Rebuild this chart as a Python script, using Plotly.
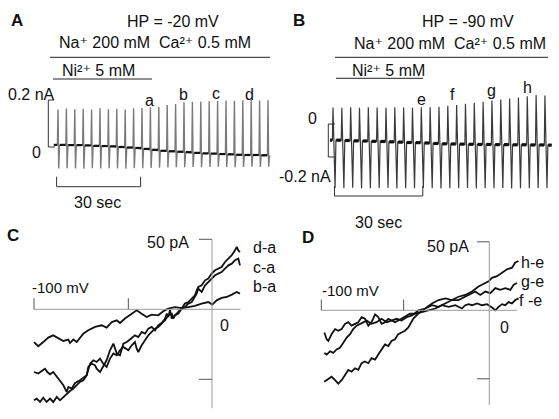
import plotly.graph_objects as go

W, H = 559, 419
FONT = "Liberation Sans, Arial, Helvetica, DejaVu Sans, sans-serif"

# ---------------- data ----------------
# Panel A (HP = -20 mV): one value per sweep (nA), sweeps every 3 s
A_SWEEP_T = [0, 3, 6, 9, 12, 15, 18, 21, 24, 27, 30, 33, 36, 39, 42, 45, 48, 51, 54, 57, 60, 63, 66, 69, 72, 75]
A_TOP = [0.160, 0.164, 0.161, 0.163, 0.160, 0.165, 0.161, 0.163, 0.160, 0.165, 0.166, 0.168,
         0.171, 0.179, 0.183, 0.190, 0.192, 0.194, 0.195, 0.196, 0.198, 0.197, 0.199, 0.200, 0.198, 0.199]
A_BOT = [-0.091, -0.090, -0.091, -0.092, -0.090, -0.091, -0.090, -0.091, -0.092, -0.090, -0.090, -0.089,
         -0.088, -0.087, -0.086, -0.086, -0.085, -0.086, -0.085, -0.084, -0.085, -0.086, -0.085, -0.084, -0.085, -0.084]
A_BASE = [0.009, 0.008, 0.008, 0.007, 0.005, 0.004, 0.003, 0.000, -0.002, -0.004, -0.008, -0.012,
          -0.016, -0.018, -0.020, -0.022, -0.025, -0.027, -0.028, -0.030, -0.031, -0.033, -0.034, -0.034, -0.035, -0.036]

# Panel B (HP = -90 mV)
B_SWEEP_T = [0, 3, 6, 9, 12, 15, 18, 21, 24, 27, 30, 33, 36, 39, 42, 45, 48, 51, 54, 57, 60, 63, 66, 69, 72]
B_TOP = [0.100, 0.098, 0.102, 0.099, 0.101, 0.100, 0.098, 0.101, 0.100, 0.099, 0.101, 0.102,
         0.105, 0.110, 0.115, 0.122, 0.128, 0.135, 0.142, 0.148, 0.155, 0.160, 0.168, 0.175, 0.172]
B_BOT = [-0.388, -0.390, -0.386, -0.391, -0.389, -0.390, -0.387, -0.391, -0.389, -0.390, -0.388, -0.390,
         -0.391, -0.389, -0.390, -0.388, -0.391, -0.389, -0.390, -0.388, -0.391, -0.389, -0.390, -0.388, -0.390]
B_BASE = [-0.098, -0.100, -0.102, -0.103, -0.105, -0.106, -0.108, -0.110, -0.112, -0.113, -0.115, -0.118,
          -0.120, -0.121, -0.122, -0.123, -0.124, -0.124, -0.125, -0.125, -0.126, -0.126, -0.127, -0.127, -0.128]

# Panel C: difference I-V curves (mV, pA)
C_V_BA = [-100, -97.6, -94.8, -92.0, -89.2, -86.3, -83.5, -80.7, -79.8, -77.9, -76.0, -72.3, -69.5, -65.7,
          -62.0, -59.2, -56.3, -53.5, -51.7, -48.9, -46.1, -42.3, -39.5, -36.7, -33.9, -30.2, -27.4, -24.6,
          -20.8, -17.0, -13.3, -9.6, -5.8, -2.1, 0.2, 2.6, 5.4, 8.3, 11.1, 13.9, 15.7]
C_I_BA = [-23.4, -26.4, -23.4, -20.2, -18.6, -20.9, -22.6, -21.6, -24.1, -21.6, -23.4, -17.4, -15.0, -12.6,
          -11.4, -13.1, -9.1, -7.9, -9.8, -6.6, -4.3, -0.7, -3.1, -5.5, -3.8, -4.3, -1.4, 0.5,
          1.6, 0.9, 1.6, 2.4, 4.1, 5.2, 3.4, 6.4, 8.1, 8.8, 10.5, 12.4, 11.2]
C_V_CA = [-100, -97.6, -95.7, -93.8, -92.5, -91.0, -89.2, -87.2, -85.4, -83.5, -81.6, -80.7, -78.8, -76.9,
          -74.2, -72.3, -70.4, -69.5, -67.6, -65.7, -64.8, -62.9, -61.1, -59.2, -57.3, -55.4, -53.5, -51.7,
          -49.8, -47.9, -46.1, -43.3, -41.4, -39.5, -37.6, -35.8, -33.9, -32.0, -30.2, -28.3, -26.4, -24.6,
          -22.6, -21.7, -20.8, -18.9, -17.0, -15.2, -13.3, -11.4, -9.6, -8.6, -7.7, -5.8, -3.9, -2.1,
          -0.2, 1.7, 3.5, 5.4, 7.3, 9.2, 11.1, 12.9, 14.8, 15.7]
C_I_CA = [-44.8, -45.9, -44.1, -42.4, -44.8, -46.4, -44.8, -47.9, -50.7, -54.3, -59.1, -55.5, -56.6, -52.6,
          -50.7, -48.8, -47.1, -41.2, -38.8, -40.0, -42.4, -44.8, -41.2, -36.4, -29.3, -24.5, -31.6, -32.9,
          -24.5, -23.4, -21.6, -18.6, -19.8, -16.2, -17.4, -13.8, -12.6, -15.0, -11.4, -9.5, -7.9, -4.3,
          -3.1, -6.6, -4.3, -1.9, 0.5, 1.6, 4.1, 5.2, 8.8, 11.2, 14.8, 12.4, 17.1, 19.5,
          21.9, 24.3, 25.5, 26.6, 29.1, 31.4, 32.6, 35.0, 36.2, 31.4]
C_V_DA = [-100, -98.5, -96.6, -94.8, -92.9, -91.0, -89.2, -87.2, -85.4, -83.5, -81.6, -79.8, -77.9, -76.0,
          -74.2, -72.3, -70.4, -68.5, -66.7, -64.8, -62.9, -61.1, -59.2, -57.3, -55.4, -53.5, -51.7, -49.8,
          -47.0, -45.1, -43.3, -42.3, -41.4, -39.5, -37.6, -35.8, -33.9, -32.0, -30.2, -28.3, -26.4, -25.4,
          -24.6, -23.6, -22.6, -20.8, -18.9, -17.0, -15.2, -13.3, -11.4, -9.6, -8.6, -7.7, -5.8, -3.9,
          -2.1, -0.2, 1.7, 3.5, 5.4, 7.3, 9.2, 11.1, 12.9, 13.9, 14.8, 15.7]
C_I_DA = [-65.0, -63.8, -66.2, -63.1, -66.2, -63.8, -66.2, -62.6, -65.0, -62.6, -60.2, -58.4, -56.6, -54.3,
          -51.9, -50.7, -47.1, -38.8, -36.4, -37.6, -35.2, -38.8, -41.2, -35.2, -31.6, -32.9, -29.3, -26.9,
          -29.3, -25.7, -23.4, -28.1, -30.5, -25.7, -22.1, -18.6, -16.2, -13.8, -12.6, -10.2, -6.6, -3.1,
          -5.5, -0.7, -6.6, -4.3, -3.1, 0.9, 4.1, 5.2, 7.6, 10.0, 13.6, 15.9, 17.1, 20.7,
          21.9, 25.5, 27.9, 29.1, 30.2, 33.8, 36.2, 38.6, 42.1, 44.5, 42.1, 40.9]

# Panel D
D_V_FE = [-98.2, -96.8, -95.8, -93.9, -91.8, -89.9, -87.9, -85.9, -83.9, -82.0, -79.9, -78.0, -76.0, -74.0,
          -72.0, -70.1, -68.0, -66.1, -64.1, -62.1, -60.1, -58.2, -56.1, -54.2, -52.2, -50.2, -47.2, -44.0,
          -40.1, -36.1, -32.1, -28.2, -24.2, -20.2, -16.3, -14.3, -12.3, -10.3, -7.3, -4.3, -1.4, 1.6,
          3.6, 5.5, 7.6, 9.5, 11.5, 13.5, 15.5, 17.4]
D_I_FE = [-16.2, -21.1, -22.4, -17.4, -13.7, -14.9, -13.7, -9.9, -8.7, -11.2, -9.9, -8.7, -5.0, -6.2,
          -11.2, -8.7, -3.0, -5.0, -9.9, -8.7, -6.2, -7.5, -8.7, -7.5, -6.2, -5.0, -2.5, -2.5,
          -1.3, 0.0, 1.3, 3.7, 2.5, 3.7, 1.3, 3.7, 4.5, 3.7, 5.0, 3.7, 4.5, 2.0,
          0.0, 2.5, 4.5, 3.7, 6.0, 5.0, 7.5, 8.7]
D_V_GE = [-98.2, -96.8, -94.8, -92.9, -90.9, -88.9, -86.9, -84.9, -82.9, -81.0, -79.0, -77.0, -75.0, -73.0,
          -70.1, -67.1, -64.1, -61.1, -58.2, -55.2, -52.2, -49.2, -46.0, -42.1, -38.1, -34.1, -30.2, -26.2,
          -22.2, -18.3, -14.3, -10.3, -8.3, -5.4, -2.4, 0.6, 3.6, 6.5, 9.5, 12.5, 14.5, 16.5]
D_I_GE = [-31.1, -32.3, -29.9, -31.1, -28.6, -27.4, -23.7, -19.9, -17.4, -13.7, -11.2, -9.9, -8.7, -7.5,
          -9.9, -8.7, -6.2, -8.7, -7.5, -6.2, -7.5, -5.0, -3.7, 0.0, 1.3, 3.7, 2.5, 5.0,
          7.5, 7.5, 9.9, 12.5, 13.7, 11.2, 13.7, 12.5, 16.2, 14.9, 16.2, 14.9, 18.7, 19.9]
D_V_HE = [-98.2, -95.8, -93.9, -91.8, -89.9, -87.9, -85.9, -83.9, -82.0, -79.9, -78.0, -76.0, -74.0, -72.0,
          -70.1, -68.0, -66.1, -64.1, -62.1, -60.1, -58.2, -56.1, -54.2, -52.2, -50.2, -48.2, -45.2, -42.1,
          -38.1, -34.1, -30.2, -26.2, -22.2, -18.3, -14.3, -10.3, -6.4, -2.4, -0.4, 1.6, 4.6, 7.6,
          10.5, 13.5, 15.5, 17.4]
D_I_HE = [-52.2, -50.2, -48.5, -51.0, -53.5, -51.0, -47.2, -43.5, -44.8, -42.3, -43.5, -38.6, -37.3, -38.6,
          -34.9, -36.0, -32.3, -28.6, -24.9, -26.1, -22.4, -21.1, -17.4, -16.2, -14.9, -12.5, -6.0, -2.2,
          1.3, 5.0, 7.5, 8.7, 7.5, 9.9, 11.2, 13.7, 17.4, 19.9, 21.1, 23.7, 24.9, 27.4,
          29.9, 31.1, 34.9, 36.0]

# scale bars / axis marks (values)
A_AMP_BAR = [0, 0.2]        # nA
B_AMP_BAR = [0, -0.2]       # nA
TIME_BAR = 30               # s
C_XTICKS = [-100, -47]      # mV marks on C
D_XTICKS = [-100, -51]      # mV marks on D
IV_YTICKS = [50, -50]       # pA

# ---------------- pixel calibration of each panel ----------------
def xr(p0, scale):
    return [-p0 / scale, (W - p0) / scale]

def yr(p0, scale):
    return [-(H - p0) / scale, p0 / scale]

RANGES = {
    "": (xr(58, 2.8), yr(147, 235)),
    "2": (xr(333, 8.83 / 3), yr(124, 165)),
    "3": (xr(212, 1.78), yr(309.3, 1.4)),
    "4": (xr(489.3, 1.68), yr(310.3, 1.37)),
}

fig = go.Figure()

def sweep_path(ts, tops, bots, bases, dt_down, lead, tail):
    xs, ys = [ts[0] - lead], [bases[0]]
    for t, top, bot, base in zip(ts, tops, bots, bases):
        xs += [t - 0.2, t, t + dt_down, t + dt_down + 0.3]
        ys += [base, top, bot, base]
    xs.append(ts[-1] + tail)
    ys.append(bases[-1])
    return xs, ys

def base_segments(ts, bases, dt_down, lead, tail):
    xs, ys = [ts[0] - lead, ts[0] - 0.3, None], [bases[0], bases[0], None]
    for i, (t, b) in enumerate(zip(ts, bases)):
        end = ts[i + 1] - 0.3 if i + 1 < len(ts) else t + tail
        xs += [t + dt_down + 0.4, end, None]
        ys += [b, b, None]
    return xs, ys

# Panel A trace
ax_, ay_ = sweep_path(A_SWEEP_T, A_TOP, A_BOT, A_BASE, 0.25, 1.5, 0.6)
fig.add_trace(go.Scatter(x=ax_, y=ay_, mode="lines", line=dict(color="#7a7a7a", width=1.4),
                         xaxis="x", yaxis="y", hoverinfo="skip"))
bx_, by_ = base_segments(A_SWEEP_T, A_BASE, 0.25, 1.5, 0.6)
fig.add_trace(go.Scatter(x=bx_, y=by_, mode="lines", line=dict(color="#111", width=2.2),
                         xaxis="x", yaxis="y", hoverinfo="skip"))

# Panel B trace
ax_, ay_ = sweep_path(B_SWEEP_T, B_TOP, B_BOT, B_BASE, 0.7, 1.0, 2.3)
fig.add_trace(go.Scatter(x=ax_, y=ay_, mode="lines", line=dict(color="#3a3a3a", width=1.2),
                         xaxis="x2", yaxis="y2", hoverinfo="skip"))
bx_, by_ = base_segments(B_SWEEP_T, B_BASE, 0.7, 1.0, 2.3)
fig.add_trace(go.Scatter(x=bx_, y=by_, mode="lines", line=dict(color="#111", width=3.2),
                         xaxis="x2", yaxis="y2", hoverinfo="skip"))

# Panels C and D curves
for vx, iy, ax in [(C_V_BA, C_I_BA, "3"), (C_V_CA, C_I_CA, "3"), (C_V_DA, C_I_DA, "3"),
                   (D_V_FE, D_I_FE, "4"), (D_V_GE, D_I_GE, "4"), (D_V_HE, D_I_HE, "4")]:
    fig.add_trace(go.Scatter(x=vx, y=iy, mode="lines", line=dict(color="#111", width=1.8),
                             xaxis="x" + ax, yaxis="y" + ax, hoverinfo="skip"))

shapes = []

def pline(x0, y0, x1, y1, color="#222", width=1):
    shapes.append(dict(type="line", xref="paper", yref="paper", x0=x0 / W, y0=1 - y0 / H,
                       x1=x1 / W, y1=1 - y1 / H, line=dict(color=color, width=width)))

def dline(ax, x0, y0, x1, y1, color="#222", width=1, xref=None, yref=None):
    shapes.append(dict(type="line", xref=xref or "x" + ax, yref=yref or "y" + ax,
                       x0=x0, y0=y0, x1=x1, y1=y1, line=dict(color=color, width=width)))

# solution bars
pline(50, 57.3, 270, 57.3)
pline(53, 79, 152, 79)
pline(335, 57.3, 548, 57.3)
pline(336, 78.3, 423, 78.3)

# amplitude scale brackets
dline("", 48.3 / W, A_AMP_BAR[0], 48.3 / W, A_AMP_BAR[1], "#333", 1, xref="paper", yref="y")
dline("", 48.3 / W, A_AMP_BAR[1], 54 / W, A_AMP_BAR[1], "#333", 1, xref="paper", yref="y")
dline("", 48.3 / W, A_AMP_BAR[0], 55 / W, A_AMP_BAR[0], "#333", 1, xref="paper", yref="y")
dline("", 328.3 / W, B_AMP_BAR[0], 328.3 / W, B_AMP_BAR[1], "#333", 1, xref="paper", yref="y2")
dline("", 328.3 / W, B_AMP_BAR[0], 335 / W, B_AMP_BAR[0], "#333", 1, xref="paper", yref="y2")
dline("", 328.3 / W, B_AMP_BAR[1], 335 / W, B_AMP_BAR[1], "#333", 1, xref="paper", yref="y2")

# time scale brackets
for ax, t0, ybar, ytop in [("", -0.5, 186.7, 176.7), ("2", 0.5, 196, 186)]:
    t1 = t0 + TIME_BAR
    dline(ax, t0, 1 - ybar / H, t1, 1 - ybar / H, "#333", 1, yref="paper")
    dline(ax, t0, 1 - ybar / H, t0, 1 - ytop / H, "#333", 1, yref="paper")
    dline(ax, t1, 1 - ybar / H, t1, 1 - ytop / H, "#333", 1, yref="paper")

# I-V axes
for ax, xt, xend, ybot in [("3", C_XTICKS, 16, -70.7), ("4", D_XTICKS, 16.5, -69)]:
    dline(ax, xt[0], 0, xend, 0, "#9a9a9a", 1)
    dline(ax, 0, IV_YTICKS[0], 0, ybot, "#9a9a9a", 1)
    for yt in IV_YTICKS:
        dline(ax, -7.3, yt, 0, yt, "#555", 1)
    for xv in xt:
        dline(ax, xv, 0, xv, 7.9, "#555", 1)

fig.update_layout(shapes=shapes)

ann = []

def lab(text, x, y, size=16, bold=False, xanchor="center"):
    f = dict(size=size, color="#111", family=FONT)
    if bold:
        f["weight"] = "bold"
    ann.append(dict(text=text, x=x / W, y=1 - y / H, xref="paper", yref="paper", showarrow=False,
                    xanchor=xanchor, yanchor="middle", font=f))

NA_CA = "Na\u207a 200 mM  Ca\u00b2\u207a 0.5 mM"
NI = "Ni\u00b2\u207a 5 mM"

lab("A", 16.5, 20.5, 17, True)
lab("HP = -20 mV", 173, 21)
lab(NA_CA, 155, 42.5)
lab(NI, 98, 70.5)
lab("0.2 nA", 31, 94)
lab("0", 36, 153)
lab("a", 149, 100.5)
lab("b", 183.5, 94.5)
lab("c", 216, 93)
lab("d", 249, 94)
lab("30 sec", 97, 202.7)

lab("B", 299, 20.5, 17, True)
lab("HP = -90 mV", 467.5, 21)
lab(NA_CA, 450, 43)
lab(NI, 388, 70.5)
lab("0", 312, 118.5)
lab("-0.2 nA", 305, 176)
lab("e", 422, 99.5)
lab("f", 452.5, 94.5)
lab("g", 491, 90)
lab("h", 527.5, 87.8)
lab("30 sec", 378.5, 222.7)

lab("C", 12.5, 235, 17, True)
lab("50 pA", 167.5, 242)
lab("-100 mV", 61, 287.5, 15)
lab("0", 224, 325)
lab("d-a", 251, 248, xanchor="left")
lab("c-a", 251, 267.3, xanchor="left")
lab("b-a", 251, 286, xanchor="left")

lab("D", 307.5, 237, 17, True)
lab("50 pA", 448, 246)
lab("-100 mV", 350, 290, 15)
lab("0", 504, 327)
lab("h-e", 519, 262, xanchor="left")
lab("g-e", 519, 281, xanchor="left")
lab("f -e", 517, 300, xanchor="left")

layout = dict(
    width=W, height=H, autosize=False,
    margin=dict(l=0, r=0, t=0, b=0, pad=0),
    paper_bgcolor="white", plot_bgcolor="rgba(0,0,0,0)",
    showlegend=False, annotations=ann,
    font=dict(family=FONT, color="#111"),
)
for k, (xrng, yrng) in RANGES.items():
    layout["xaxis" + k] = dict(domain=[0, 1], range=xrng, visible=False, fixedrange=True,
                               anchor="y" + k)
    layout["yaxis" + k] = dict(domain=[0, 1], range=yrng, visible=False, fixedrange=True,
                               anchor="x" + k)
fig.update_layout(**layout)

fig.write_html("out.html", config={"displayModeBar": False},
               post_script="document.body.style.margin='0';document.body.style.overflow='hidden';")
